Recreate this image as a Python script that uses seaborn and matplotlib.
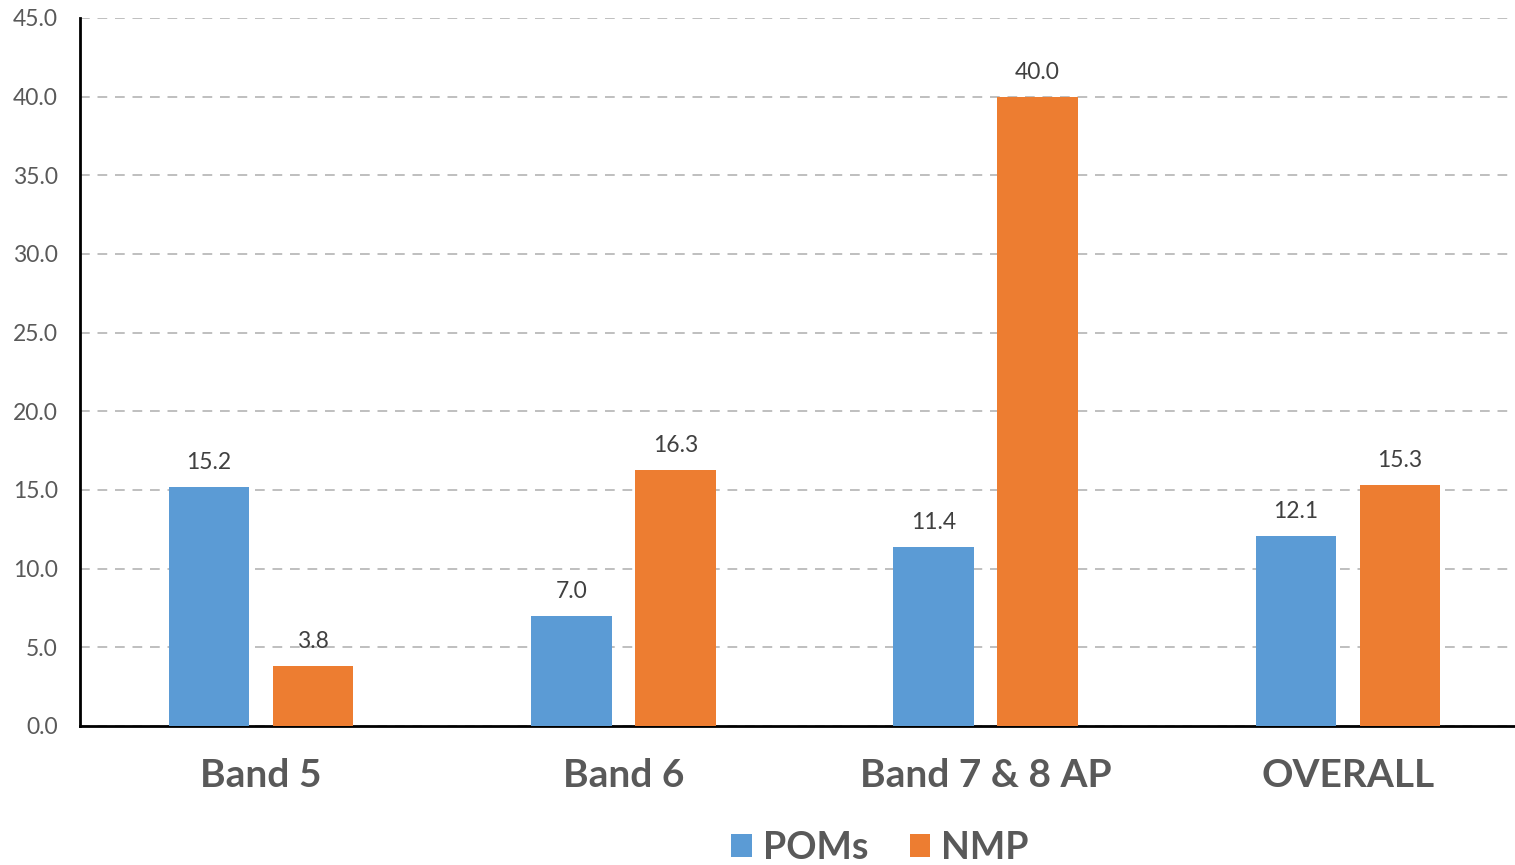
import matplotlib
matplotlib.use("Agg")
import matplotlib.pyplot as plt
import seaborn as sns
import pandas as pd

categories = ["Band 5", "Band 6", "Band 7 & 8 AP", "OVERALL"]
poms = [15.2, 7.0, 11.4, 12.1]
nmp = [3.8, 16.3, 40.0, 15.3]
series_names = ["POMs", "NMP"]
colors = ["#5B9BD5", "#ED7D31"]
yticks = [0, 5, 10, 15, 20, 25, 30, 35, 40, 45]

df = pd.DataFrame({
    "category": categories * 2,
    "series": [series_names[0]] * len(categories) + [series_names[1]] * len(categories),
    "value": poms + nmp,
})

sns.set_theme(style="white")
plt.rcParams["font.family"] = ["Lato", "DejaVu Sans"]

W, H = 1515, 865
fig = plt.figure(figsize=(W / 100, H / 100), dpi=100)
ax = fig.add_axes([80 / W, 1 - 726 / H, 1449 / W, (726 - 18) / H])

sns.barplot(data=df, x="category", y="value", hue="series", order=categories,
            hue_order=series_names, palette=colors, width=0.574, gap=0.224,
            saturation=1, linewidth=0, ax=ax, legend=True, zorder=3)

ax.set_xlim(-0.5, 3.5)
ax.set_ylim(0, 45)
ax.set_yticks(yticks)
ax.set_yticklabels([f"{v:.1f}" for v in yticks], fontsize=16.5, color="#595959")
ax.tick_params(axis="y", length=0, pad=16)
ax.tick_params(axis="x", length=0, pad=23)
for lbl in ax.get_xticklabels():
    lbl.set_fontsize(28)
    lbl.set_fontweight("bold")
    lbl.set_color("#595959")
ax.set_xlabel("")
ax.set_ylabel("")

ax.yaxis.grid(True, linestyle=(0, (5, 4)), color="#BFBFBF", linewidth=1.4, zorder=0)
ax.set_axisbelow(True)
for side in ["top", "right"]:
    ax.spines[side].set_visible(False)
for side in ["left", "bottom"]:
    ax.spines[side].set_color("black")
    ax.spines[side].set_linewidth(2)

for container in ax.containers:
    ax.bar_label(container, fmt="%.1f", padding=10, fontsize=16.5, color="#404040")

handles, labels = ax.get_legend_handles_labels()
ax.legend(handles, labels, loc="center", bbox_to_anchor=(880 / W, 1 - 848 / H),
          bbox_transform=fig.transFigure,
          ncol=2, frameon=False, handlelength=0.55, handleheight=0.55,
          handletextpad=0.3, columnspacing=1.1,
          prop={"size": 27, "weight": "bold"}, labelcolor="#595959")

fig.savefig("out.png", dpi=100)
